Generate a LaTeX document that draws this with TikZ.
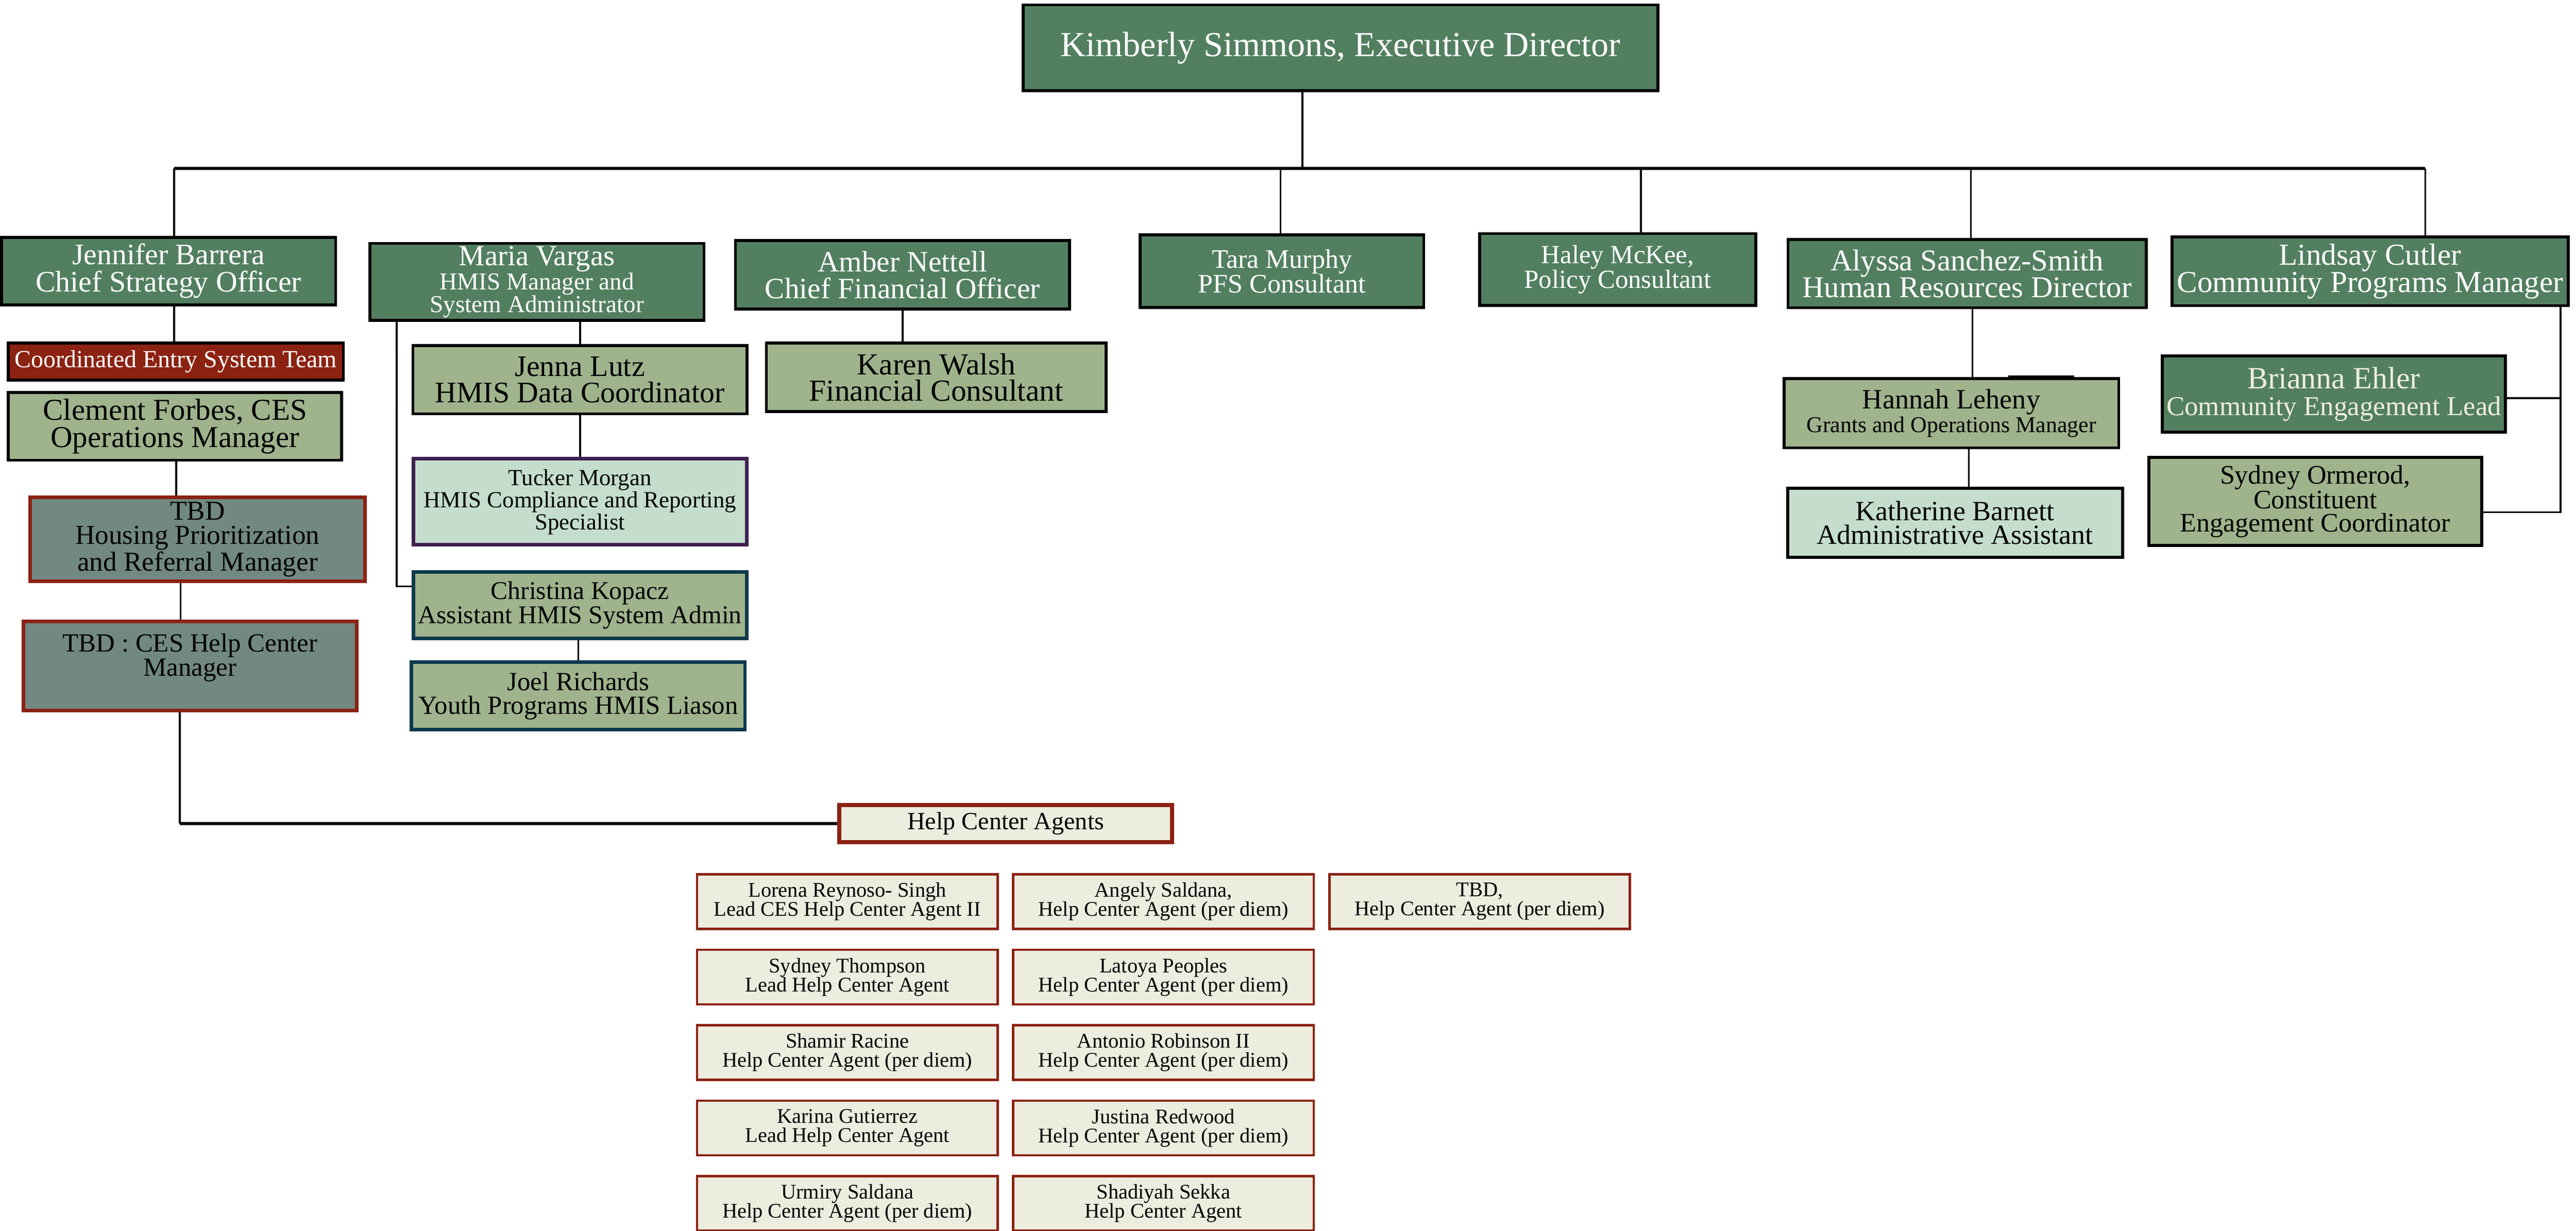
\documentclass[tikz,border=0pt]{standalone}
\usepackage{fontspec}
\setmainfont{Liberation Serif}
\usepackage{xcolor}
\usepackage{tikz}

\definecolor{dkgreen}{RGB}{82,127,96}
\definecolor{sage}{RGB}{159,179,141}
\definecolor{slate}{RGB}{114,136,130}
\definecolor{mint}{RGB}{197,221,205}
\definecolor{cesred}{RGB}{139,34,18}
\definecolor{cream}{RGB}{236,236,223}
\definecolor{plum}{RGB}{63,31,79}
\definecolor{hmisteal}{RGB}{11,58,76}
\definecolor{paleleaf}{RGB}{238,238,221}
\newcommand{\fsz}[2]{\fontsize{#1}{#2}\selectfont}

\begin{document}
\begin{tikzpicture}[
	box/.style={draw=black, line width=2.5pt, inner sep=1pt, align=center},
	dark/.style={box, fill=dkgreen, text=white},
	light/.style={box, fill=sage},
	pale/.style={box, fill=mint},
	tbd/.style={box, fill=slate, draw=cesred, line width=3pt},
	agent/.style={box, fill=cream, draw=cesred, line width=2pt, minimum width=8.87cm, minimum height=1.61cm, font=\fsz{17.5}{16}},
	sz/.style n args={2}{minimum width=#1cm, minimum height=#2cm},
	link/.style={line width=1.6pt},
	bus/.style={line width=2.3pt}]

	\useasboundingbox (0,0) rectangle (76.02,-36.33);

	% top
	\node[dark, sz={18.72}{2.53}, font=\fsz{29.5}{30}] (kimberly) at (39.56,-1.41) {Kimberly Simmons, Executive Director};

	% ces column
	\node[dark, sz={9.86}{1.99}, font=\fsz{25}{23}] (jennifer) at (4.975,-8.00) {Jennifer Barrera\\Chief Strategy Officer};
	\node[box, fill=cesred, text=white, sz={9.89}{1.09}, font=\fsz{20.7}{20}] (cesteam) at (5.19,-10.67) {Coordinated Entry System Team};
	\node[light, sz={9.84}{2.00}, font=\fsz{25.5}{23}] (clement) at (5.165,-12.585) {Clement Forbes, CES\\Operations Manager};
	\node[tbd, sz={9.87}{2.47}, font=\fsz{23}{20.6}] (housing) at (5.83,-15.92) {TBD\\Housing Prioritization\\and Referral Manager};
	\node[tbd, sz={9.84}{2.63}, font=\fsz{22}{19}] (hcmanager) at (5.61,-19.66) {TBD : CES Help Center\\Manager\\\mbox{}};

	% hmis column
	\node[dark, sz={9.86}{2.27}, font=\fsz{20.4}{18.8}] (maria) at (15.845,-8.32) {\fsz{24.5}{20}Maria Vargas\\HMIS Manager and\\System Administrator};
	\node[light, sz={9.86}{2.01}, font=\fsz{25}{21.8}] (jenna) at (17.115,-11.21) {Jenna Lutz\\HMIS Data Coordinator};
	\node[pale, draw=plum, line width=3pt, sz={9.84}{2.54}, font=\fsz{19.4}{17}] (tucker) at (17.115,-14.815) {Tucker Morgan\\HMIS Compliance and Reporting\\Specialist};
	\node[light, draw=hmisteal, line width=3pt, sz={9.84}{1.96}, font=\fsz{21.5}{19}] (christina) at (17.115,-17.865) {Christina Kopacz\\Assistant HMIS System Admin};
	\node[light, draw=hmisteal, line width=3pt, sz={9.84}{1.99}, font=\fsz{22}{20}] (joel) at (17.065,-20.54) {Joel Richards\\Youth Programs HMIS Liason};

	% finance and consultants
	\node[dark, sz={9.86}{2.02}, font=\fsz{24.8}{22.7}] (amber) at (26.635,-8.115) {Amber Nettell\\Chief Financial Officer};
	\node[light, sz={10.03}{2.02}, font=\fsz{25.7}{22}] (karen) at (27.63,-11.135) {Karen Walsh\\Financial Consultant};
	\node[dark, sz={8.37}{2.14}, font=\fsz{22.5}{20.5}] (tara) at (37.83,-8.005) {Tara Murphy\\PFS Consultant};
	\node[dark, sz={8.15}{2.12}, font=\fsz{22}{20}] (haley) at (47.74,-7.955) {Haley McKee,\\Policy Consultant};

	% hr
	\node[dark, sz={10.57}{2.01}, font=\fsz{25.4}{22.5}] (alyssa) at (58.05,-8.08) {Alyssa Sanchez-Smith\\Human Resources Director};
	\node[light, sz={9.88}{2.04}, font=\fsz{19}{20}] (hannah) at (57.585,-12.2) {\fsz{23.5}{20}Hannah Leheny\\Grants and Operations Manager};
	\node[pale, sz={9.88}{2.03}, font=\fsz{23.4}{20}] (katherine) at (57.695,-15.43) {Katherine Barnett\\Administrative Assistant};

	% community programs
	\node[dark, sz={11.70}{2.03}, font=\fsz{25.6}{23}] (lindsay) at (69.945,-8.01) {Lindsay Cutler\\Community Programs Manager};
	\node[dark, text=paleleaf, sz={10.12}{2.25}, font=\fsz{22.9}{22.5}] (brianna) at (68.875,-11.63) {\fsz{26}{22.5}Brianna Ehler\\Community Engagement Lead};
	\node[light, sz={9.82}{2.59}, font=\fsz{22.5}{19.5}] (ormerod) at (68.325,-14.80) {Sydney Ormerod,\\Constituent\\Engagement Coordinator};

	% help center
	\node[box, fill=cream, draw=cesred, line width=3.4pt, sz={9.82}{1.10}, font=\fsz{20.8}{20}] (agents) at (29.68,-24.31) {Help Center Agents};
	\foreach \n/\c/\r/\who/\role in {
			lorena/0/0/{Lorena Reynoso- Singh}/{Lead CES Help Center Agent II},
			angely/1/0/{Angely Saldana,}/{Help Center Agent (per diem)},
			tbdagent/2/0/{TBD,}/{Help Center Agent (per diem)},
			sthompson/0/1/{Sydney Thompson}/{Lead Help Center Agent},
			latoya/1/1/{Latoya Peoples}/{Help Center Agent (per diem)},
			shamir/0/2/{Shamir Racine}/{Help Center Agent (per diem)},
			antonio/1/2/{Antonio Robinson II}/{Help Center Agent (per diem)},
			karina/0/3/{Karina Gutierrez}/{Lead Help Center Agent},
			justina/1/3/{Justina Redwood}/{Help Center Agent (per diem)},
			urmiry/0/4/{Urmiry Saldana}/{Help Center Agent (per diem)},
			shadiyah/1/4/{Shadiyah Sekka}/{Help Center Agent}}
		\node[agent] (\n) at ({25.005+9.33*\c},{-26.615-2.227*\r}) {\who\\\role};

	% connectors
	\draw[link] (kimberly.south -| 38.43,0) -- (38.43,-4.97);
	\draw[bus] (5.14,-4.97) -- (71.57,-4.97);
	\foreach \x/\n in {5.14/jennifer, 37.79/tara, 48.42/haley, 58.16/alyssa, 71.57/lindsay}
		\draw[link] (\x,-4.97) -- (\n.north -| \x,0);

	\draw[link] (jennifer.south -| 5.14,0) -- (cesteam.north -| 5.14,0);
	\draw[link] (clement.south -| 5.20,0) -- (housing.north -| 5.20,0);
	\draw[link] (housing.south -| 5.33,0) -- (hcmanager.north -| 5.33,0);
	\draw[link] (hcmanager.south -| 5.31,0) -- (5.31,-24.31) coordinate (hcturn);
	\draw[bus] (hcturn) -- (agents.west);

	\draw[link] (maria.south -| 11.71,0) |- (christina.west |- 0,-17.31);
	\draw[link] (jenna.north |- maria.south) -- (jenna.north);
	\draw[link] (jenna.south) -- (tucker.north);
	\draw[link] (joel.north |- christina.south) -- (joel.north);

	\draw[link] (amber.south) -- (amber.south |- karen.north);

	\draw[link] (alyssa.south -| 58.21,0) -- (hannah.north -| 58.21,0);
	\draw[line width=1.2pt] (59.27,-11.11) -- (61.21,-11.11);
	\draw[link] (hannah.south -| 58.10,0) -- (katherine.north -| 58.10,0);

	\draw[link] (lindsay.south -| 75.56,0) |- (brianna.east |- 0,-11.75);
	\draw[link] (75.56,-11.75) |- (ormerod.east |- 0,-15.12);
\end{tikzpicture}
\end{document}
